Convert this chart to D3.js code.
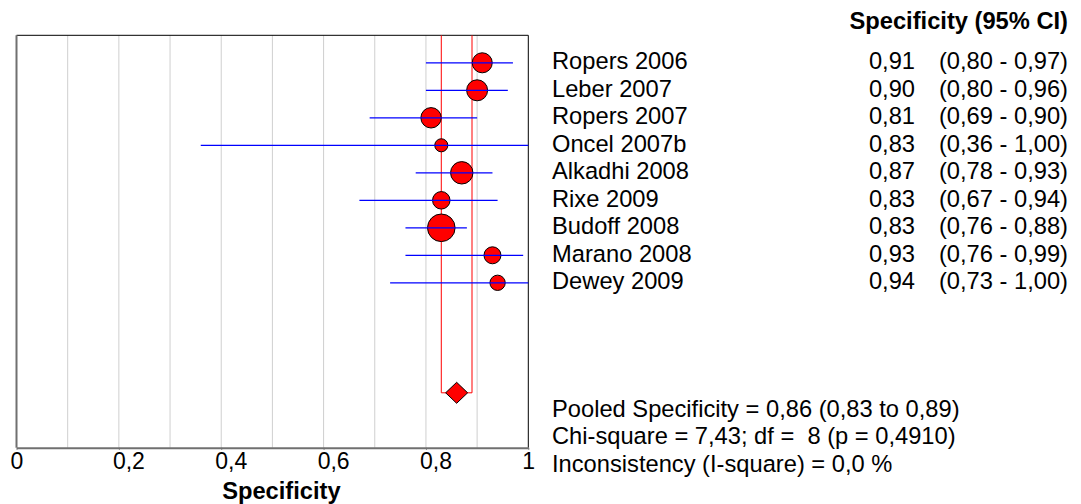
<!DOCTYPE html>
<html>
<head>
<meta charset="utf-8">
<script src="https://cdn.jsdelivr.net/npm/d3@7/dist/d3.min.js"></script>
<style>
  html, body { margin: 0; padding: 0; background: #fff; }
  svg { display: block; font-family: "Liberation Sans", Arial, sans-serif; }
</style>
</head>
<body>
<svg id="chart" width="1081" height="504"></svg>
<script>
// Forest plot of study specificities with pooled estimate
const studies = ["Ropers 2006", "Leber 2007", "Ropers 2007", "Oncel 2007b", "Alkadhi 2008",
                 "Rixe 2009", "Budoff 2008", "Marano 2008", "Dewey 2009"];
const specificity = [0.91, 0.90, 0.81, 0.83, 0.87, 0.83, 0.83, 0.93, 0.94];
const ciLower = [0.80, 0.80, 0.69, 0.36, 0.78, 0.67, 0.76, 0.76, 0.73];
const ciUpper = [0.97, 0.96, 0.90, 1.00, 0.93, 0.94, 0.88, 0.99, 1.00];
const weights = [11.3, 12.4, 11.7, 4.8, 14.1, 8.6, 21.4, 8.1, 6.6];   // relative weight (%)

const pooledEstimate = 0.86;
const pooledLower = 0.83;
const pooledUpper = 0.89;

const statLines = [
  "Pooled Specificity = 0,86 (0,83 to 0,89)",
  "Chi-square = 7,43; df =  8 (p = 0,4910)",
  "Inconsistency (I-square) = 0,0 %"
];
const axisTicks = [0, 0.2, 0.4, 0.6, 0.8, 1];
const gridTicks = [0.1, 0.2, 0.3, 0.4, 0.5, 0.6, 0.7, 0.8, 0.9];
const headerLabel = "Specificity (95% CI)";
const axisTitle = "Specificity";

const svg = d3.select("#chart");
const fontSize = 23.7;

const locale = d3.formatLocale({ decimal: ",", thousands: ".", grouping: [3], currency: ["", ""] });
const fmt2 = locale.format(".2f");
const fmtTick = locale.format("~g");

// Scales: x for specificity, y for row index (studies 0..8, pooled at row 12)
const x = d3.scaleLinear().domain([0, 1]).range([16.5, 528.3]);
const y = d3.scaleLinear().domain([-1, 14]).range([35.3, 447.8]);
const r = d3.scaleSqrt().domain([0, d3.max(weights)]).range([0, 13.8]);
const pooledRow = 12;

// Grid lines
svg.append("g").selectAll("line").data(gridTicks).join("line")
  .attr("x1", d => x(d)).attr("x2", d => x(d))
  .attr("y1", y(-1)).attr("y2", y(14))
  .attr("stroke", "#cfcfcf").attr("stroke-width", 1);

// Frame: black top and right edges
svg.append("path")
  .attr("d", `M${x(0)},${y(-1)}H${x(1)}V${y(14)}`)
  .attr("fill", "none").attr("stroke", "#000").attr("stroke-width", 1);

// Left axis line
svg.append("line")
  .attr("x1", x(0)).attr("x2", x(0)).attr("y1", y(-1)).attr("y2", y(14))
  .attr("stroke", "#707070").attr("stroke-width", 2);

// Bottom axis
const xAxis = d3.axisBottom(x).tickValues(axisTicks).tickSize(2).tickSizeOuter(0).tickFormat(fmtTick);
const gx = svg.append("g").attr("transform", `translate(0,${y(14)})`).call(xAxis);
gx.select(".domain").attr("stroke", "#707070").attr("stroke-width", 2);
gx.selectAll(".tick line").attr("stroke", "#707070").attr("stroke-width", 1);
gx.selectAll(".tick text")
  .attr("font-family", "Liberation Sans, Arial, sans-serif")
  .attr("font-size", 23).attr("fill", "#000")
  .attr("text-anchor", "start").attr("dx", "-0.28em")
  .attr("y", 5).attr("dy", "0.71em");

// Axis title
svg.append("text")
  .attr("x", (x(0) + x(1)) / 2 + 9).attr("y", 499)
  .attr("text-anchor", "middle").attr("font-size", fontSize).attr("font-weight", "bold")
  .text(axisTitle);

// Pooled confidence band
svg.append("path")
  .attr("d", `M${x(pooledLower)},${y(-1)}V${y(pooledRow)}H${x(pooledUpper)}V${y(-1)}`)
  .attr("fill", "none").attr("stroke", "#ff0000").attr("stroke-width", 1);

const rows = studies.map((s, i) => ({
  name: s, est: specificity[i], lo: ciLower[i], hi: ciUpper[i], w: weights[i], i
}));

// Study point estimates
svg.append("g").selectAll("circle").data(rows).join("circle")
  .attr("cx", d => x(d.est)).attr("cy", d => y(d.i)).attr("r", d => r(d.w))
  .attr("fill", "#ff0000").attr("stroke", "#000").attr("stroke-width", 1);

// Confidence intervals
svg.append("g").selectAll("line").data(rows).join("line")
  .attr("x1", d => x(d.lo)).attr("x2", d => x(d.hi))
  .attr("y1", d => y(d.i)).attr("y2", d => y(d.i))
  .attr("stroke", "#0000ff").attr("stroke-width", 1.3);

// Pooled diamond
const px = x(pooledEstimate), py = y(pooledRow);
svg.append("path")
  .attr("d", `M${px - 11},${py}L${px},${py - 10.5}L${px + 11},${py}L${px},${py + 10.5}Z`)
  .attr("fill", "#ff0000").attr("stroke", "#000").attr("stroke-width", 1);

// Right-hand table
const colValueEnd = 915, colCiEnd = 1068;
svg.append("text")
  .attr("x", colCiEnd).attr("y", 28.5)
  .attr("text-anchor", "end").attr("font-size", fontSize).attr("font-weight", "bold")
  .text(headerLabel);

const table = svg.append("g").attr("font-size", fontSize).attr("fill", "#000");
table.selectAll("text.name").data(rows).join("text").attr("class", "name")
  .attr("x", 552).attr("y", d => y(d.i) + 6.3)
  .text(d => d.name);
table.selectAll("text.val").data(rows).join("text").attr("class", "val")
  .attr("x", colValueEnd).attr("y", d => y(d.i) + 6.3).attr("text-anchor", "end")
  .text(d => fmt2(d.est));
table.selectAll("text.ci").data(rows).join("text").attr("class", "ci")
  .attr("x", colCiEnd).attr("y", d => y(d.i) + 6.3).attr("text-anchor", "end")
  .text(d => `(${fmt2(d.lo)} - ${fmt2(d.hi)})`);

// Summary statistics
table.selectAll("text.stat").data(statLines).join("text").attr("class", "stat")
  .attr("x", 552).attr("y", (d, i) => y(12.65 + i) + 6.3)
  .attr("xml:space", "preserve").style("white-space", "pre")
  .text(d => d);
</script>
</body>
</html>
